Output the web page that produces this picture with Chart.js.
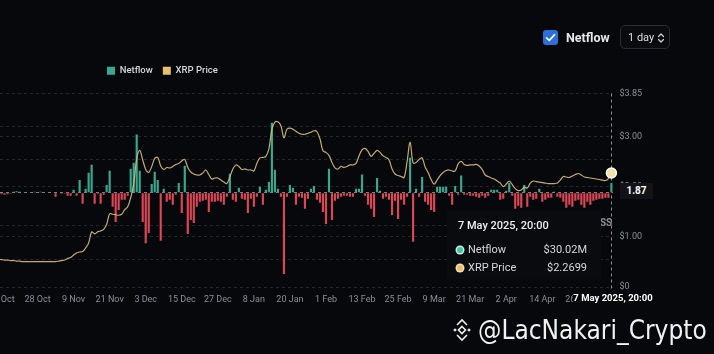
<!DOCTYPE html>
<html><head><meta charset="utf-8">
<script src="https://cdn.jsdelivr.net/npm/chart.js@4.4.1/dist/chart.umd.min.js"></script>
<style>
html,body{margin:0;padding:0;background:#07080b;width:714px;height:354px;overflow:hidden;font-family:Roboto,"Noto Sans",sans-serif;}
#wrap{position:absolute;left:-30px;top:0;width:744px;height:354px;}
.abs{position:absolute;}
#chk{left:543px;top:30px;width:15px;height:15px;background:#2c6fd8;border-radius:3px;}
#chkLbl{left:566px;top:30px;font-size:12.5px;font-weight:700;color:#e6e7ea;line-height:15px;}
#sel{left:620px;top:25px;width:50px;height:24px;box-sizing:border-box;border:1px solid #2a2d33;border-radius:5px;background:#0a0b0f;}
#selTxt{left:7px;top:5px;font-size:11px;color:#dcdde0;line-height:13px;}
#y187{left:620px;top:183px;width:33px;height:16px;background:#111317;color:#fff;font-size:10px;font-weight:700;line-height:16px;text-align:center;}
#xlab{left:573px;top:291px;width:80px;height:14px;background:#07080b;color:#fff;font-size:9.5px;font-weight:700;line-height:14px;text-align:center;}
#tip{left:447px;top:211px;width:154px;height:68px;background:#0a0b0e;}
#tipT{left:11px;top:8px;font-size:11px;color:#eef0f2;font-weight:500;}
.row{left:10px;width:130px;font-size:11px;color:#d6d8dc;line-height:13px;}
.row .dot{display:inline-block;width:6px;height:6px;border-radius:50%;margin-right:5px;vertical-align:0px;}
.row .v{position:absolute;right:0;top:0;}
#iss{left:597px;top:217px;font-size:10px;color:#8a8d93;font-weight:700;}
#wm{left:450px;top:315px;color:#f2f2f2;font-size:26px;font-family:"Liberation Sans Narrow","DejaVu Sans Condensed",sans-serif;font-stretch:condensed;line-height:30px;white-space:nowrap;}
</style></head><body>
<div id="wrap"><canvas id="c" width="744" height="354" style="width:744px;height:354px"></canvas></div>

<div id="chk" class="abs"><svg width="15" height="15" viewBox="0 0 15 15"><path d="M3.5 7.8 L6.3 10.5 L11.6 4.6" fill="none" stroke="#fff" stroke-width="1.6" stroke-linecap="round" stroke-linejoin="round"/></svg></div>
<div id="chkLbl" class="abs">Netflow</div>
<div id="sel" class="abs"><div id="selTxt" class="abs">1 day</div>
<svg class="abs" style="left:36px;top:6px" width="8" height="12" viewBox="0 0 8 12"><path d="M1.5 4.5 L4 2 L6.5 4.5 M1.5 7.5 L4 10 L6.5 7.5" fill="none" stroke="#cfd1d5" stroke-width="1.2" stroke-linecap="round" stroke-linejoin="round"/></svg></div>

<div id="y187" class="abs">1.87</div>
<div id="xlab" class="abs">7 May 2025, 20:00</div>
<div id="iss" class="abs">ISS</div>
<div id="tip" class="abs">
  <div id="tipT" class="abs">7 May 2025, 20:00</div>
  <div class="row abs" style="top:32px"><span class="dot" style="background:#45c2a6;box-shadow:0 0 0 1.5px #bfeee2"></span>Netflow<span class="v">$30.02M</span></div>
  <div class="row abs" style="top:50px"><span class="dot" style="background:#e7bf6b;box-shadow:0 0 0 1.5px #f6e2b8"></span>XRP Price<span class="v">$2.2699</span></div>
</div>
<div id="wm" class="abs"><svg style="vertical-align:-3px;margin-right:4px" width="24" height="24" viewBox="0 0 24 24"><g fill="none" stroke="#eee" stroke-width="1.6"><path d="M12 8.5 L15.5 12 L12 15.5 L8.5 12 Z"/><path d="M7 7 L12 2 L17 7"/><path d="M7 17 L12 22 L17 17"/></g><g fill="#eee"><path d="M3.2 12 L5 10.2 L6.8 12 L5 13.8 Z"/><path d="M17.2 12 L19 10.2 L20.8 12 L19 13.8 Z"/></g></svg>@LacNakari_Crypto</div>

<script>
// ---- data ----
const startDate = [2024, 9, 14]; // 14 Oct 2024, daily
const monthNames = ['Jan','Feb','Mar','Apr','May','Jun','Jul','Aug','Sep','Oct','Nov','Dec'];
const tickLabels = ['16 Oct','28 Oct','9 Nov','21 Nov','3 Dec','15 Dec','27 Dec','8 Jan','20 Jan','1 Feb','13 Feb','25 Feb','9 Mar','21 Mar','2 Apr','14 Apr','26 Apr'];
const priceTicks = [0, 1, 2, 3, 3.85];

// Netflow in $M (daily)
const netflow = [
 -3,-4.5,-4.5,-6,-4.5,-3,3,4.5,3,1.5,
 -1.5,1.5,1.5,3,1.5,3,1.5,-1.5,-1.5,-1.5,
 -12,-1.5,-3,-3,-9,-9,9,-9,39,-33,
 12,61,85,-33,-3,-33,-6,24,67,-42,
 -88,-52,-21,-21,-9,73,91,176,67,-88,
 -152,-121,27,64,39,-145,12,-27,-21,-36,
 -6,30,-61,82,-124,-82,-91,-42,-27,-24,
 -21,-58,-27,-27,-24,-27,-36,-12,58,-21,
 -27,15,-18,-21,-61,-18,-42,-12,18,-36,
 9,33,212,70,12,-12,-245,-12,24,15,
 -36,-12,-15,-48,-18,12,21,-21,-30,-58,
 -94,73,-82,-24,-18,-12,-9,-9,-12,-12,
 12,12,55,-9,-36,-48,-73,45,6,-18,
 -12,-21,-67,-24,-79,-21,-36,-12,106,-148,
 12,-12,48,-27,-36,-52,-58,18,18,18,
 18,-9,-36,21,-6,52,-6,-6,-9,-9,
 -12,-15,-9,-15,-9,9,9,9,-21,-18,
 6,30,-9,-48,-39,-45,24,-42,-12,-21,
 -18,12,-27,-21,-15,-15,3,-12,-15,-27,
 -45,-36,-42,-24,-21,-36,-45,-27,-36,-24,
 -21,-18,-18,-15,-15,30.02
];

// XRP price in $
const xrpPrice = [
 0.55,0.55,0.55,0.54,0.54,0.53,0.53,0.52,0.52,0.51,
 0.51,0.51,0.51,0.51,0.51,0.51,0.51,0.51,0.51,0.51,
 0.51,0.52,0.53,0.54,0.57,0.59,0.64,0.68,0.70,0.71,
 0.78,0.88,1.10,1.06,1.10,1.12,1.15,1.25,1.46,1.45,
 1.44,1.43,1.45,1.54,1.60,1.78,2.05,2.55,2.72,2.53,
 2.34,2.28,2.40,2.56,2.58,2.41,2.34,2.38,2.37,2.40,
 2.44,2.46,2.51,2.54,2.38,2.29,2.25,2.23,2.23,2.27,
 2.33,2.24,2.15,2.17,2.17,2.13,2.09,2.06,2.19,2.35,
 2.43,2.40,2.34,2.35,2.33,2.33,2.31,2.46,2.57,2.58,
 2.60,2.75,3.14,3.28,3.29,3.21,2.97,3.14,3.16,3.14,
 3.10,3.06,3.04,3.04,3.06,3.08,3.11,3.09,2.95,2.71,
 2.68,2.62,2.48,2.37,2.35,2.40,2.38,2.40,2.43,2.43,
 2.46,2.61,2.73,2.76,2.70,2.60,2.66,2.72,2.68,2.61,
 2.58,2.53,2.35,2.25,2.22,2.20,2.18,2.50,2.88,2.47,
 2.48,2.54,2.57,2.39,2.28,2.14,2.05,2.13,2.22,2.28,
 2.32,2.33,2.31,2.31,2.45,2.50,2.44,2.42,2.43,2.43,
 2.44,2.41,2.34,2.23,2.20,2.17,2.15,2.11,2.07,2.00,
 2.05,2.11,2.04,1.96,1.92,1.93,1.99,1.97,2.07,2.11,
 2.10,2.09,2.08,2.07,2.06,2.06,2.06,2.07,2.13,2.20,
 2.19,2.18,2.21,2.24,2.26,2.23,2.19,2.18,2.17,2.16,
 2.15,2.14,2.13,2.12,2.16,2.2699
];

// category labels (one per day)
const days = [];
for (let k = 0; k < netflow.length; k++) {
  const d = new Date(startDate[0], startDate[1], startDate[2] + k);
  days.push(d.getDate() + ' ' + monthNames[d.getMonth()]);
}
const tickSet = new Set(tickLabels);
const last = netflow.length - 1;

const GREEN = '#3aa88f', RED = '#dc4655', GOLD = '#e7c06e', LINE = 'rgba(214,188,132,0.9)';
const GRID = '#23262c';

const legendPlugin = {
  id: 'legendTweak',
  beforeInit(chart) {
    const lg = chart.legend;
    if (lg) {
      const fit = lg.fit;
      lg.fit = function () { fit.call(this); this.height += 8; };
    }
  },
  afterLayout(chart) {
    const lg = chart.legend;
    if (!lg) return;
    const target = 137; // canvas x of first legend box
    const dx = target - (lg.left + lg.options.labels.padding);
    lg.left += dx; lg.right += dx;
  }
};

const crosshair = {
  id: 'crosshair',
  beforeDatasetsDraw(chart) {
    const {ctx, chartArea, scales} = chart;
    const x = Math.round(scales.x.getPixelForValue(last)) + 0.5;
    ctx.save();
    ctx.strokeStyle = 'rgba(185,188,195,0.75)';
    ctx.lineWidth = 1;
    ctx.setLineDash([3, 3]);
    ctx.beginPath();
    ctx.moveTo(x, chartArea.top);
    ctx.lineTo(x, chartArea.bottom + 5);
    ctx.stroke();
    ctx.restore();
  }
};

new Chart(document.getElementById('c'), {
  data: {
    labels: days,
    datasets: [
      {
        type: 'line', label: 'XRP Price', data: xrpPrice, yAxisID: 'y1',
        borderColor: LINE, borderWidth: 1.2, tension: 0.35, fill: false,
        pointRadius: c => c.dataIndex === last ? 5 : 0,
        pointHoverRadius: 0,
        pointBackgroundColor: '#f5dfaa', pointBorderColor: '#ffffff', pointBorderWidth: 1.5,
        order: 0
      },
      {
        type: 'bar', label: 'Netflow', data: netflow, yAxisID: 'y',
        backgroundColor: c => (c.raw >= 0 ? GREEN : RED),
        barPercentage: 0.72, categoryPercentage: 1,
        order: 1
      }
    ]
  },
  options: {
    responsive: false,
    animation: false,
    events: [],
    layout: { padding: { left: 24, right: 65.5, top: 56, bottom: 42 } },
    plugins: {
      tooltip: { enabled: false },
      legend: {
        display: true, position: 'top', align: 'start',
        labels: {
          boxWidth: 8, boxHeight: 8, padding: 10, color: '#d3d6db',
          font: { family: 'Roboto', size: 9.5, weight: '500' },
          generateLabels: () => [
            { text: 'Netflow', fillStyle: GREEN, strokeStyle: GREEN, lineWidth: 0, fontColor: '#d3d6db', datasetIndex: 1 },
            { text: 'XRP Price', fillStyle: GOLD, strokeStyle: GOLD, lineWidth: 0, fontColor: '#d3d6db', datasetIndex: 0 }
          ]
        }
      }
    },
    scales: {
      x: {
        type: 'category', offset: true,
        grid: { display: false, drawTicks: false }, border: { display: false },
        ticks: {
          autoSkip: false, maxRotation: 0, minRotation: 0, padding: 7,
          color: '#8b8f97', font: { family: 'Roboto', size: 9 },
          callback(v) { const l = this.getLabelForValue(v); return tickSet.has(l) ? l : ''; }
        }
      },
      y: {
        position: 'left', min: -285, max: 300,
        ticks: { display: false, stepSize: 100 },
        grid: { color: c => (c.tick && c.tick.value === 0 ? 'rgba(205,208,214,0.6)' : GRID), drawTicks: false },
        border: { display: false, dash: [3, 3] }
      },
      y1: {
        position: 'right', min: 0, max: 3.85,
        afterBuildTicks: s => { s.ticks = priceTicks.map(v => ({ value: v })); },
        ticks: {
          padding: 6.5, color: '#8b8f97', font: { family: 'Roboto', size: 9 },
          callback: v => (v === 0 ? '$0' : '$' + v.toFixed(2))
        },
        grid: { color: GRID, drawTicks: false },
        border: { display: false, dash: [3, 3] }
      }
    }
  },
  plugins: [legendPlugin, crosshair]
});
</script>
</body></html>
